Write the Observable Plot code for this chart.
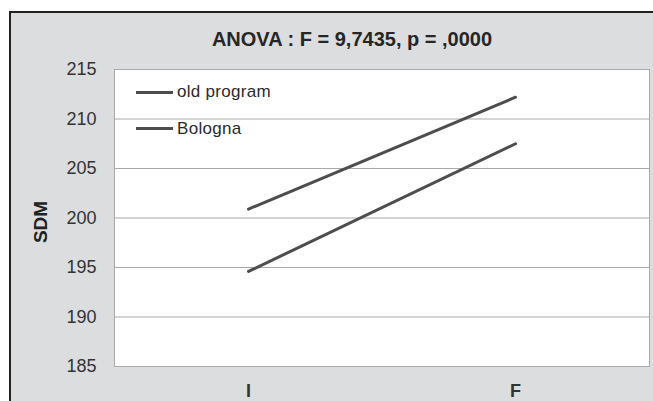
<!DOCTYPE html>
<html>
<head>
<meta charset="utf-8">
<script src="https://cdn.jsdelivr.net/npm/d3@7"></script>
<script src="https://cdn.jsdelivr.net/npm/@observablehq/plot@0.6"></script>
<style>
  html, body { margin: 0; padding: 0; background: #fff; overflow: hidden; }
  #wrap { position: relative; width: 653px; height: 401px; font-family: "Liberation Sans", Arial, sans-serif; }
  #box { position: absolute; left: 9px; top: 11px; width: 660px; height: 410px; background: #dcdddf; border: 2px solid #222; box-sizing: border-box; }
  #chart { position: absolute; left: 0; top: 0; }
  #title { position: absolute; left: 0; width: 704px; top: 29px; line-height: 20px; text-align: center; font-size: 20px; font-weight: bold; color: #262626; }
  #ylabel { position: absolute; left: 40px; top: 222px; transform: translate(-50%, -50%) rotate(-90deg); font-size: 19px; font-weight: bold; color: #222; line-height: 19px; white-space: nowrap; }
  #legend { position: absolute; left: 136px; top: 82px; font-size: 17px; color: #2a2a2a; letter-spacing: 0.3px; }
  .item { display: flex; align-items: center; height: 20px; margin-bottom: 16.7px; }
  .swatch { width: 37px; height: 3px; background: #4d4d4d; margin-right: 4px; }
</style>
</head>
<body>
<div id="wrap">
  <div id="box"></div>
  <div id="chart"></div>
  <div id="title"></div>
  <div id="ylabel"></div>
  <div id="legend"></div>
</div>
<script>
const titleText = "ANOVA : F = 9,7435, p = ,0000";
const yLabel = "SDM";
const categories = ["I", "F"];
const seriesNames = ["old program", "Bologna"];
const oldProgram = [200.9, 212.2];
const bologna = [194.6, 207.5];
const yTicks = [185, 190, 195, 200, 205, 210, 215];

const data = [];
categories.forEach((c, i) => {
  data.push({cat: c, value: oldProgram[i], series: seriesNames[0]});
  data.push({cat: c, value: bologna[i], series: seriesNames[1]});
});

const chart = Plot.plot({
  width: 653,
  height: 401,
  marginLeft: 114,
  marginRight: 4,
  marginTop: 69,
  marginBottom: 35,
  style: {background: "transparent", fontFamily: "'Liberation Sans', Arial, sans-serif", overflow: "visible"},
  x: {type: "point", domain: categories, padding: 0.5, label: null},
  y: {domain: [185, 215], label: null},
  marks: [
    Plot.frame({fill: "white", stroke: "none"}),
    Plot.ruleY(yTicks, {stroke: "#a9a9a9", strokeWidth: 1}),
    Plot.frame({stroke: "#a9a9a9", fill: "none"}),
    Plot.line(data, {x: "cat", y: "value", z: "series", stroke: "#4d4d4d", strokeWidth: 3, strokeLinecap: "round"}),
    Plot.axisY({ticks: yTicks, tickSize: 0, tickPadding: 18, fontSize: 18, fill: "#333", label: null}),
    Plot.axisX({tickSize: 0, tickPadding: 18, fontSize: 18, fontWeight: "bold", fill: "#333", label: null})
  ]
});
document.getElementById("chart").appendChild(chart);

document.getElementById("title").textContent = titleText;
document.getElementById("ylabel").textContent = yLabel;
const legend = document.getElementById("legend");
seriesNames.forEach(n => {
  const row = document.createElement("div");
  row.className = "item";
  const sw = document.createElement("span");
  sw.className = "swatch";
  const tx = document.createElement("span");
  tx.textContent = n;
  row.appendChild(sw);
  row.appendChild(tx);
  legend.appendChild(row);
});
</script>
</body>
</html>
